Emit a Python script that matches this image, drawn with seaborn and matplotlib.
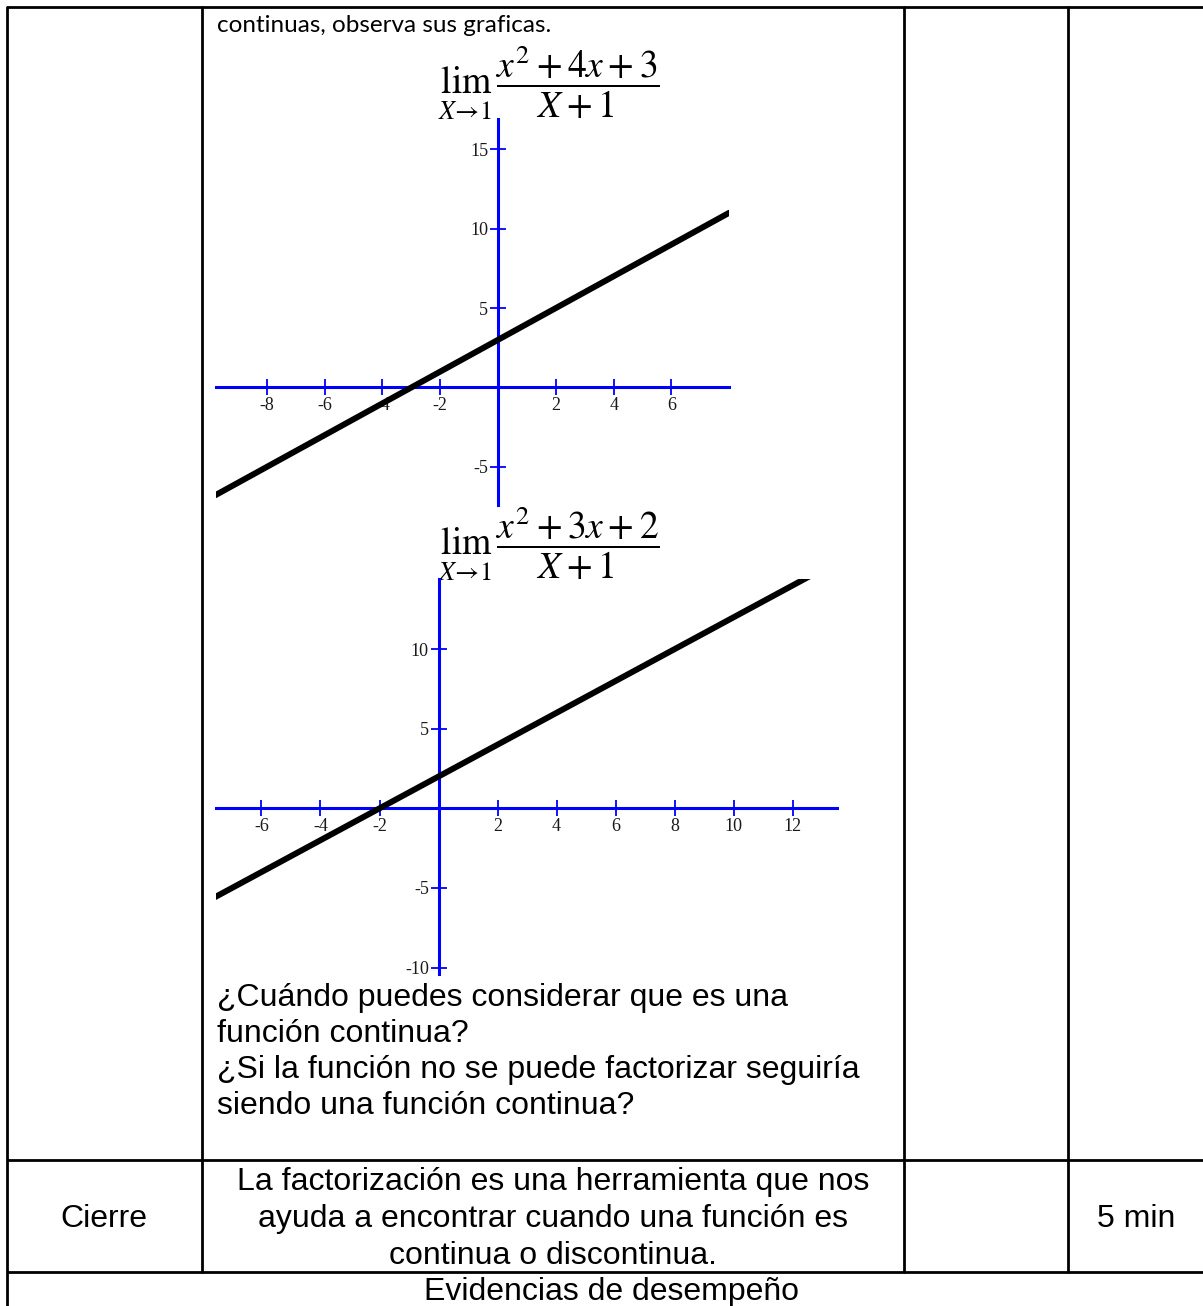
import matplotlib
matplotlib.use('Agg')
import matplotlib.pyplot as plt
import seaborn as sns

# page size in pixels (dpi 100)
W, H = 1203, 1306

# the two straight lines
line1_x = [-9.8, 8.0]
line1_y = [-6.8, 11.0]
line2_x = [-7.6, 12.6]
line2_y = [-5.6, 14.6]

ticks1_x = [-8, -6, -4, -2, 2, 4, 6]
ticks1_y = [-5, 5, 10, 15]
ticks2_x = [-6, -4, -2, 2, 4, 6, 8, 10, 12]
ticks2_y = [-10, -5, 5, 10]

limits1 = ((-9.76, 7.99), (-7.4, 16.9))
limits2 = ((-7.54, 13.5), (-10.4, 14.4))

formula1 = r'$\lim_{X\rightarrow 1}\,\dfrac{x^2\!+4x+3}{X+1}$'
formula2 = r'$\lim_{X\rightarrow 1}\,\dfrac{x^2\!+3x+2}{X+1}$'

intro = 'continuas, observa sus graficas.'
questions = ['¿Cuándo puedes considerar que es una',
             'función continua?',
             '¿Si la función no se puede factorizar seguiría',
             'siendo una función continua?']
stage = 'Cierre'
closing = ['La factorización es una herramienta que nos',
           'ayuda a encontrar cuando una función es',
           'continua o discontinua.']
duration = '5 min'
footer = 'Evidencias de desempeño'

# table grid (pixels)
col_x = [7, 202, 904, 1068]
row_y = [7, 1160, 1272]


def draw_graph(fig, box, xs, ys, limits, xticks, yticks):
    """Maple style plot: blue axes crossing at the origin, thick black line."""
    left, top, right, bottom = box
    ax = fig.add_axes([left / W, 1 - bottom / H, (right - left) / W, (bottom - top) / H])
    ax.patch.set_alpha(0)
    sns.lineplot(x=xs, y=ys, ax=ax, color='black', linewidth=4.3, zorder=3, legend=False)
    ax.set_xlim(*limits[0])
    ax.set_ylim(*limits[1])
    for side in ('top', 'right'):
        ax.spines[side].set_visible(False)
    for side in ('left', 'bottom'):
        ax.spines[side].set_position(('data', 0))
        ax.spines[side].set_color('#0000ff')
        ax.spines[side].set_linewidth(2.2)
    ax.set_xticks(xticks)
    ax.set_yticks(yticks)
    ax.set_xticklabels([str(t) for t in xticks])
    ax.set_yticklabels([str(t) for t in yticks])
    ax.tick_params(bottom=True, left=True, direction='inout', length=12, width=1.3,
                   color='#0000ff', pad=1.0, labelsize=13, labelcolor='#1a1a1a')
    for lab in ax.get_xticklabels() + ax.get_yticklabels():
        lab.set_fontfamily('Liberation Serif')
    ax.set_xlabel('')
    ax.set_ylabel('')
    return ax


def main():
    sns.set_style('white')
    plt.rcParams['axes.unicode_minus'] = False
    plt.rcParams['text.color'] = 'black'
    plt.rcParams['font.family'] = ['Liberation Sans', 'DejaVu Sans']

    fig = plt.figure(figsize=(W / 100, H / 100), dpi=100)
    bg = fig.add_axes([0, 0, 1, 1])
    bg.set_xlim(0, W)
    bg.set_ylim(H, 0)
    bg.axis('off')

    # table borders
    lw = 2.0
    for y in row_y:
        bg.plot([col_x[0], W], [y, y], color='black', lw=lw, solid_capstyle='butt')
    bg.plot([col_x[0], col_x[0]], [row_y[0], H], color='black', lw=lw)
    for x in col_x[1:]:
        bg.plot([x, x], [row_y[0], row_y[2]], color='black', lw=lw)

    bg.text(217, 32, intro, fontsize=17.5, family='Lato', va='baseline')
    bg.text(549, 83, formula1, fontsize=27, math_fontfamily='stix', ha='center', va='center')
    bg.text(549, 544, formula2, fontsize=27, math_fontfamily='stix', ha='center', va='center')

    for i, line in enumerate(questions):
        bg.text(217, 1006 + 36 * i, line, fontsize=23, va='baseline')

    bg.text(104, 1227, stage, fontsize=23, ha='center', va='baseline')
    for i, line in enumerate(closing):
        bg.text(553, 1190 + 37 * i, line, fontsize=23, ha='center', va='baseline')
    bg.text(1136, 1227, duration, fontsize=23, ha='center', va='baseline')
    bg.text(611, 1300, footer, fontsize=23, ha='center', va='baseline')

    draw_graph(fig, (216, 119, 729, 505), line1_x, line1_y, limits1, ticks1_x, ticks1_y)
    draw_graph(fig, (216, 579, 837, 974), line2_x, line2_y, limits2, ticks2_x, ticks2_y)

    fig.savefig('out.png', dpi=100)
    plt.close(fig)


if __name__ == '__main__':
    main()
